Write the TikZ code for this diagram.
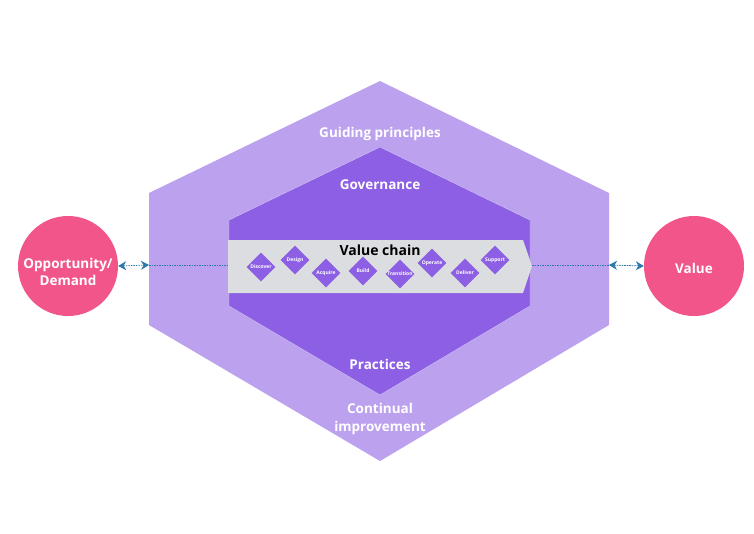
\documentclass[tikz,border=0pt]{standalone}
\usepackage{fontspec}
\setmainfont{Open Sans}
\usetikzlibrary{shapes.geometric,arrows.meta}
\definecolor{outerc}{HTML}{BBA1EE}
\definecolor{innerc}{HTML}{8D5FE4}
\definecolor{bandc}{HTML}{DCDDE0}
\definecolor{pinkc}{HTML}{F2558A}
\definecolor{bluec}{HTML}{2C78AA}
\tikzset{
  lbl/.style={text=white,font=\bfseries\fontsize{13.5}{18}\selectfont,align=center,inner sep=0pt},
  dia/.style={diamond,fill=innerc,minimum width=29pt,minimum height=29pt,inner sep=0pt},
  dlab/.style={text=white,font=\bfseries\fontsize{5}{6}\selectfont,inner sep=0pt},
  circ/.style={circle,fill=pinkc,minimum size=100pt,inner sep=0pt},
  clab/.style={text=white,align=center,inner sep=0pt,font=\bfseries\fontsize{13.5}{17}\selectfont},
  dashln/.style={draw=bluec,line width=0.75pt,dash pattern=on 1.6pt off 0.9pt},
  dblarr/.style={dashln,{Stealth[length=8pt,width=9pt]}-{Stealth[length=8pt,width=9pt]}}
}
\begin{document}
\begin{tikzpicture}[x=1pt,y=-1pt]
\useasboundingbox (0,0) rectangle (754,533);
% outer hexagon
\fill[outerc] (380,81) -- (609,193) -- (609,325) -- (380,461) -- (149,325) -- (149,193) -- cycle;
% inner hexagon
\fill[innerc,draw=outerc!60!white,line width=0.4pt] (380,147) -- (530,220) -- (530,306) -- (380,395) -- (229,306) -- (229,220) -- cycle;
% value chain band
\fill[bandc] (228,240) -- (523,240) -- (532,266) -- (523,293) -- (228,293) -- cycle;
\coordinate (bandL) at (228,265);
\coordinate (bandR) at (532,265);
\coordinate (hexL) at (149,265);
\coordinate (hexR) at (609,265);
% labels
\node[lbl] (gp) at (380,134) {Guiding principles};
\node[lbl] (gov) at (380,185) {Governance};
\node[lbl] (prac) at (380,364) {Practices};
\node[lbl] (ci) at (380,419) {Continual\\improvement};
\node[inner sep=0pt,font=\bfseries\fontsize{14}{16}\selectfont] (vc) at (380,250) {Value chain};
% diamonds
\node[dia] (d1) at (261,267) {}; \node[dlab] at (d1) {Discover};
\node[dia] (d2) at (295,260) {}; \node[dlab] at (d2) {Design};
\node[dia] (d3) at (326,273) {}; \node[dlab] at (d3) {Acquire};
\node[dia] (d4) at (363,271) {}; \node[dlab] at (d4) {Build};
\node[dia] (d5) at (400,274) {}; \node[dlab] at (d5) {Transition};
\node[dia] (d6) at (432,263) {}; \node[dlab] at (d6) {Operate};
\node[dia] (d7) at (465,273) {}; \node[dlab] at (d7) {Deliver};
\node[dia] (d8) at (495,260) {}; \node[dlab] at (d8) {Support};
% circles
\node[circ] (opp) at (68,266) {};
\node[clab] (oppt) at (68,272) {Opportunity/\\Demand};
\node[circ] (val) at (694,266) {};
\node[clab] (valt) at (694,268) {Value};
% connectors
\draw[dblarr] (opp.east) -- (hexL);
\draw[dashln] (hexL) -- (bandL);
\draw[dashln] (bandR) -- (hexR);
\draw[dblarr] (hexR) -- (val.west);
\end{tikzpicture}
\end{document}
